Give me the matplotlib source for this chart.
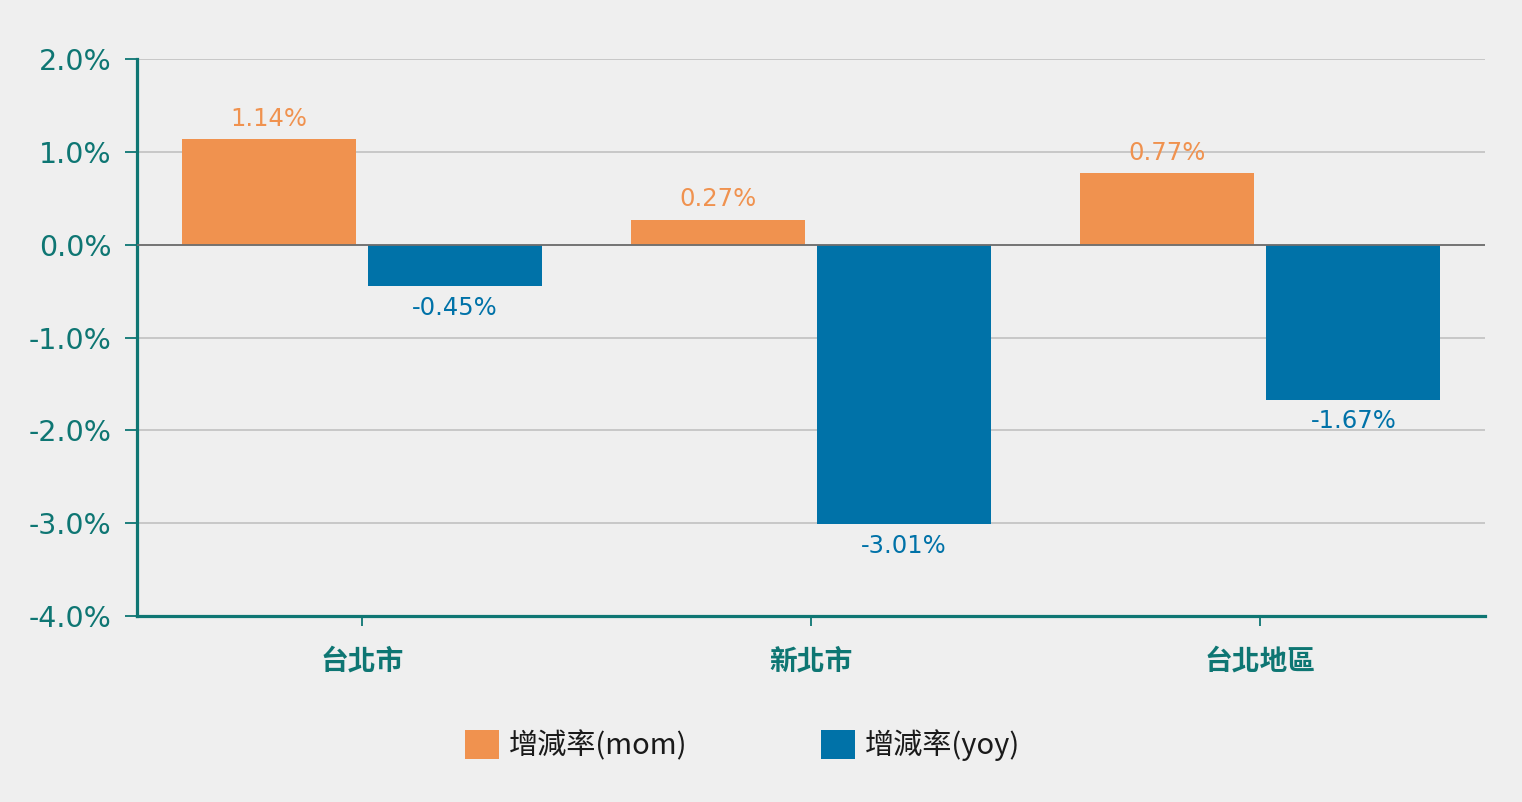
import matplotlib
matplotlib.use("Agg")
import matplotlib.pyplot as plt
import numpy as np
from matplotlib.ticker import FuncFormatter

# chart data
regions = ["台北市", "新北市", "台北地區"]
mom_values = [1.14, 0.27, 0.77]
yoy_values = [-0.45, -3.01, -1.67]
series_names = ["增減率(mom)", "增減率(yoy)"]
y_ticks = [-4.0, -3.0, -2.0, -1.0, 0.0, 1.0, 2.0]

BG = "#EFEFEF"
ORANGE = "#F0924F"
BLUE = "#0072A8"
TEAL = "#0E7673"

plt.rcParams["font.family"] = ["DejaVu Sans", "Noto Sans CJK TC"]

fig = plt.figure(figsize=(15.22, 8.02), dpi=100, facecolor=BG)
ax = fig.add_axes([0.0900, 0.2319, 0.8857, 0.6945])
ax.set_facecolor(BG)

x = np.arange(len(regions))
width = 0.3875
offset = 0.207

bars_mom = ax.bar(x - offset, mom_values, width, color=ORANGE, zorder=2, label=series_names[0])
bars_yoy = ax.bar(x + offset, yoy_values, width, color=BLUE, zorder=2, label=series_names[1])

# value labels on top of gridlines
for rect, v in zip(bars_mom, mom_values):
    ax.annotate(f"{v:.2f}%", (rect.get_x() + rect.get_width() / 2, v),
                xytext=(0, 6), textcoords="offset points", ha="center", va="bottom",
                color=ORANGE, fontsize=17.5, zorder=4)
for rect, v in zip(bars_yoy, yoy_values):
    ax.annotate(f"{v:.2f}%", (rect.get_x() + rect.get_width() / 2, v),
                xytext=(0, -7), textcoords="offset points", ha="center", va="top",
                color=BLUE, fontsize=17.5, zorder=4)

ax.set_xlim(-0.5, 2.5)
ax.set_ylim(-4.0, 2.0)
ax.set_yticks(y_ticks)
ax.yaxis.set_major_formatter(FuncFormatter(lambda v, p: f"{v:.1f}%"))
ax.set_xticks(x)
ax.set_xticklabels(regions, fontfamily="Noto Sans CJK TC", fontweight="bold",
                   fontsize=20, color=TEAL)

ax.grid(axis="y", color="#C4C4C4", linewidth=1.3, zorder=0)
ax.axhline(0, color="#6E6E6E", linewidth=1.3, zorder=3)

for side in ["top", "right"]:
    ax.spines[side].set_visible(False)
for side in ["left", "bottom"]:
    ax.spines[side].set_color(TEAL)
    ax.spines[side].set_linewidth(2.3)

ax.tick_params(axis="y", colors=TEAL, labelsize=20.5, length=8.5, width=1.3, pad=10)
ax.tick_params(axis="x", colors=TEAL, length=7, width=1.3, pad=16)

leg = fig.legend(loc="center", bbox_to_anchor=(0.488, 0.071), ncol=2, frameon=False,
                 prop={"family": "Noto Sans CJK TC", "size": 21},
                 handlelength=1.15, handleheight=1.15, handletextpad=0.35,
                 columnspacing=4.6)
for t in leg.get_texts():
    t.set_color("#1A1A1A")

fig.savefig("out.png", dpi=100, facecolor=BG)
